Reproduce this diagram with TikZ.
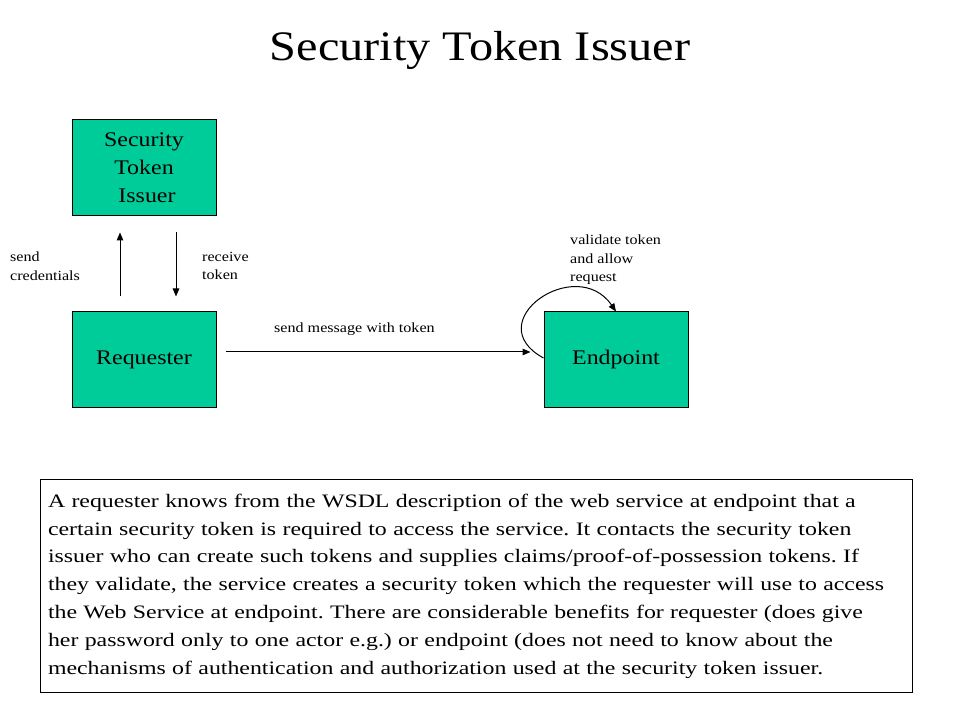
\documentclass[tikz,border=0pt]{standalone}
\usepackage{fontspec}
\setmainfont[FakeStretch=1.15]{Liberation Serif}
\newfontfamily\notefont[FakeStretch=1.255]{Liberation Serif}
\usetikzlibrary{arrows.meta}
\definecolor{tokengreen}{RGB}{0,204,153}
\tikzset{
  actor/.style={draw, fill=tokengreen, line width=1pt, minimum width=144pt, minimum height=96pt, align=center, font=\fontsize{20.8}{28}\selectfont},
  lbl/.style={inner sep=0pt, anchor=west, align=left, font=\fontsize{14}{18.5}\selectfont},
  flow/.style={line width=1pt, -{Triangle[length=8pt,width=6.5pt]}}
}
\begin{document}
\begin{tikzpicture}[x=1pt,y=1pt]
\useasboundingbox (0,0) rectangle (960,720);

\node (title) at (480,670) {\fontsize{42}{50}\selectfont Security Token Issuer};

\node [actor] (issuer) at (144,552) {Security\\Token\\\ Issuer};
\node [actor] (requester) at (144,360) {Requester};
\node [actor] (endpoint) at (616,360) {Endpoint};

\draw [flow, shorten <=15pt, shorten >=16pt] ([xshift=-24pt]requester.north) to ([xshift=-24pt]issuer.south) ;
\draw [flow, shorten <=16pt, shorten >=15pt] ([xshift=32pt]issuer.south) to ([xshift=32pt]requester.north) ;
\draw [flow, shorten <=9pt, shorten >=13pt] ([yshift=8pt]requester.east) to ([yshift=8pt]endpoint.west) ;
\draw [flow] ([yshift=2pt]endpoint.west) .. controls ([xshift=-66pt,yshift=38pt]endpoint.west) and ([xshift=-40pt,yshift=58pt]endpoint.north) .. (endpoint.north) ;

\node [lbl] (credlbl) at (10,454) {send\\credentials};
\node [lbl] (tokenlbl) at (202,454) {receive\\token};
\node [lbl] (msglbl) at (274,391) {send message with token};
\node [lbl] (validlbl) at (570,460) {validate token\\and allow\\request};

%explanation
\node [draw, line width=1pt, minimum width=872pt, minimum height=212pt, text width=856pt, inner xsep=8pt, align=left, font=\notefont\fontsize{19}{27.8}\selectfont\frenchspacing] (note) at (476,134) {A requester knows from the WSDL description of the web service at endpoint that a\\
certain security token is required to access the service. It contacts the security token\\
issuer who can create such tokens and supplies claims/proof-of-possession tokens. If\\
they validate, the service creates a security token which the requester will use to access\\
the Web Service at endpoint. There are considerable benefits for requester (does give\\
her password only to one actor e.g.) or endpoint (does not need to know about the\\
mechanisms of authentication and authorization used at the security token issuer.};

\end{tikzpicture}
\end{document}
